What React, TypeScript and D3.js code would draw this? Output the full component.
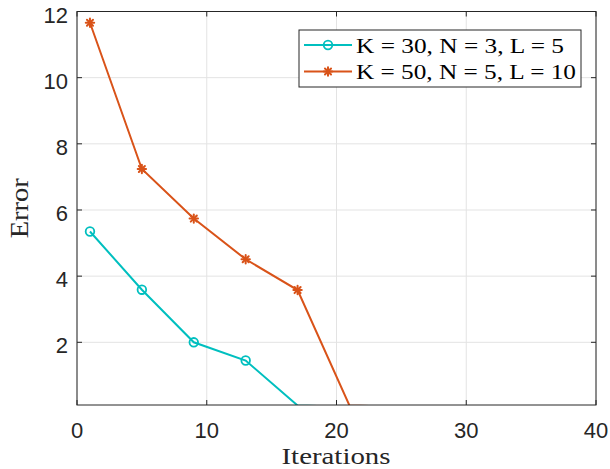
import React from "react";
import * as d3 from "d3";

const iterations = [1, 5, 9, 13, 17, 21, 25, 29, 33, 37];
const errorsA = [5.35, 3.59, 2.0, 1.45, 0.09, 0.05, 0.03, 0.02, 0.01, 0.01];
const errorsB = [11.66, 7.24, 5.74, 4.51, 3.58, 0.09, 0.05, 0.03, 0.02, 0.01];
const seriesLabels = ["K = 30, N = 3, L = 5", "K = 50, N = 5, L = 10"];
const seriesColors = ["#00BFBF", "#D95319"];
const xTicks = [0, 10, 20, 30, 40];
const yTicks = [2, 4, 6, 8, 10, 12];

const W = 610, H = 469;
const L = 77, R = 596, T = 11.5, B = 405;
const YMIN = 0.105;

export default function App() {
  const x = d3.scaleLinear().domain([0, 40]).range([L, R]);
  const y = d3.scaleLinear().domain([YMIN, 12]).range([B, T]);
  const line = d3.line<[number, number]>().x(d => x(d[0])).y(d => y(d[1]));
  const seriesData = [errorsA, errorsB].map(v => iterations.map((it, i) => [it, v[i]] as [number, number]));
  const axisColor = "#262626";
  const sans = "Liberation Sans, Arial, Helvetica, sans-serif";
  const serif = "Liberation Serif, Times New Roman, serif";

  const marker = (s: number, cx: number, cy: number, key: string) => {
    if (s === 0) {
      return <circle key={key} cx={cx} cy={cy} r={4.3} fill="none" stroke={seriesColors[0]} strokeWidth={1.8} />;
    }
    const r = 4.2;
    return (
      <g key={key} stroke={seriesColors[1]} strokeWidth={2} strokeLinecap="round">
        <line x1={cx - r} y1={cy} x2={cx + r} y2={cy} />
        <line x1={cx} y1={cy - r} x2={cx} y2={cy + r} />
        <line x1={cx - r * 0.72} y1={cy - r * 0.72} x2={cx + r * 0.72} y2={cy + r * 0.72} />
        <line x1={cx - r * 0.72} y1={cy + r * 0.72} x2={cx + r * 0.72} y2={cy - r * 0.72} />
      </g>
    );
  };

  return (
    <svg width={W} height={H} style={{ position: "absolute", left: 0, top: 0, background: "#fff" }}>
      <defs>
        <clipPath id="plotclip">
          <rect x={L} y={T} width={R - L} height={B - T} />
        </clipPath>
      </defs>
      <rect x={0} y={0} width={W} height={H} fill="#fff" />
      {xTicks.map(t => (
        <line key={"gx" + t} x1={x(t)} x2={x(t)} y1={T} y2={B} stroke="#e3e3e3" strokeWidth={1} />
      ))}
      {yTicks.map(t => (
        <line key={"gy" + t} x1={L} x2={R} y1={y(t)} y2={y(t)} stroke="#e3e3e3" strokeWidth={1} />
      ))}
      <g clipPath="url(#plotclip)">
        {seriesData.map((d, s) => (
          <path key={"l" + s} d={line(d) || ""} fill="none" stroke={seriesColors[s]} strokeWidth={2} />
        ))}
      </g>
      {seriesData.map((d, s) =>
        d.filter(p => p[1] >= YMIN && p[1] <= 12).map((p, i) => marker(s, x(p[0]), y(p[1]), `m${s}-${i}`))
      )}
      <rect x={L} y={T} width={R - L} height={B - T} fill="none" stroke={axisColor} strokeWidth={1} />
      {xTicks.map(t => (
        <g key={"tx" + t}>
          <line x1={x(t)} x2={x(t)} y1={B} y2={B - 5} stroke={axisColor} />
          <line x1={x(t)} x2={x(t)} y1={T} y2={T + 5} stroke={axisColor} />
          <text x={x(t)} y={437.5} textAnchor="middle" fontFamily={sans} fontSize={22} fill={axisColor}>{t}</text>
        </g>
      ))}
      {yTicks.map(t => (
        <g key={"ty" + t}>
          <line x1={L} x2={L + 5} y1={y(t)} y2={y(t)} stroke={axisColor} />
          <line x1={R} x2={R - 5} y1={y(t)} y2={y(t)} stroke={axisColor} />
          <text x={68} y={y(t) + 11} textAnchor="end" fontFamily={sans} fontSize={22} fill={axisColor}>{t}</text>
        </g>
      ))}
      <text x={336} y={464} textAnchor="middle" fontFamily={serif} fontSize={24} fill={axisColor} textLength={109} lengthAdjust="spacingAndGlyphs">Iterations</text>
      <text transform={`translate(28, ${(T + B) / 2}) rotate(-90)`} textAnchor="middle" fontFamily={serif} fontSize={26} fill={axisColor} textLength={60} lengthAdjust="spacingAndGlyphs">Error</text>
      <rect x={299} y={30} width={282} height={57} fill="#fff" stroke={axisColor} strokeWidth={1} />
      {seriesLabels.map((lab, s) => {
        const cy = s === 0 ? 45 : 71.5;
        return (
          <g key={"lg" + s}>
            <line x1={304} x2={352} y1={cy} y2={cy} stroke={seriesColors[s]} strokeWidth={2} />
            {marker(s, 328, cy, "lm" + s)}
            <text x={356} y={cy + 7.5} fontFamily={serif} fontSize={22} fill="#000" textLength={s === 0 ? 208 : 220} lengthAdjust="spacingAndGlyphs">{lab}</text>
          </g>
        );
      })}
    </svg>
  );
}
